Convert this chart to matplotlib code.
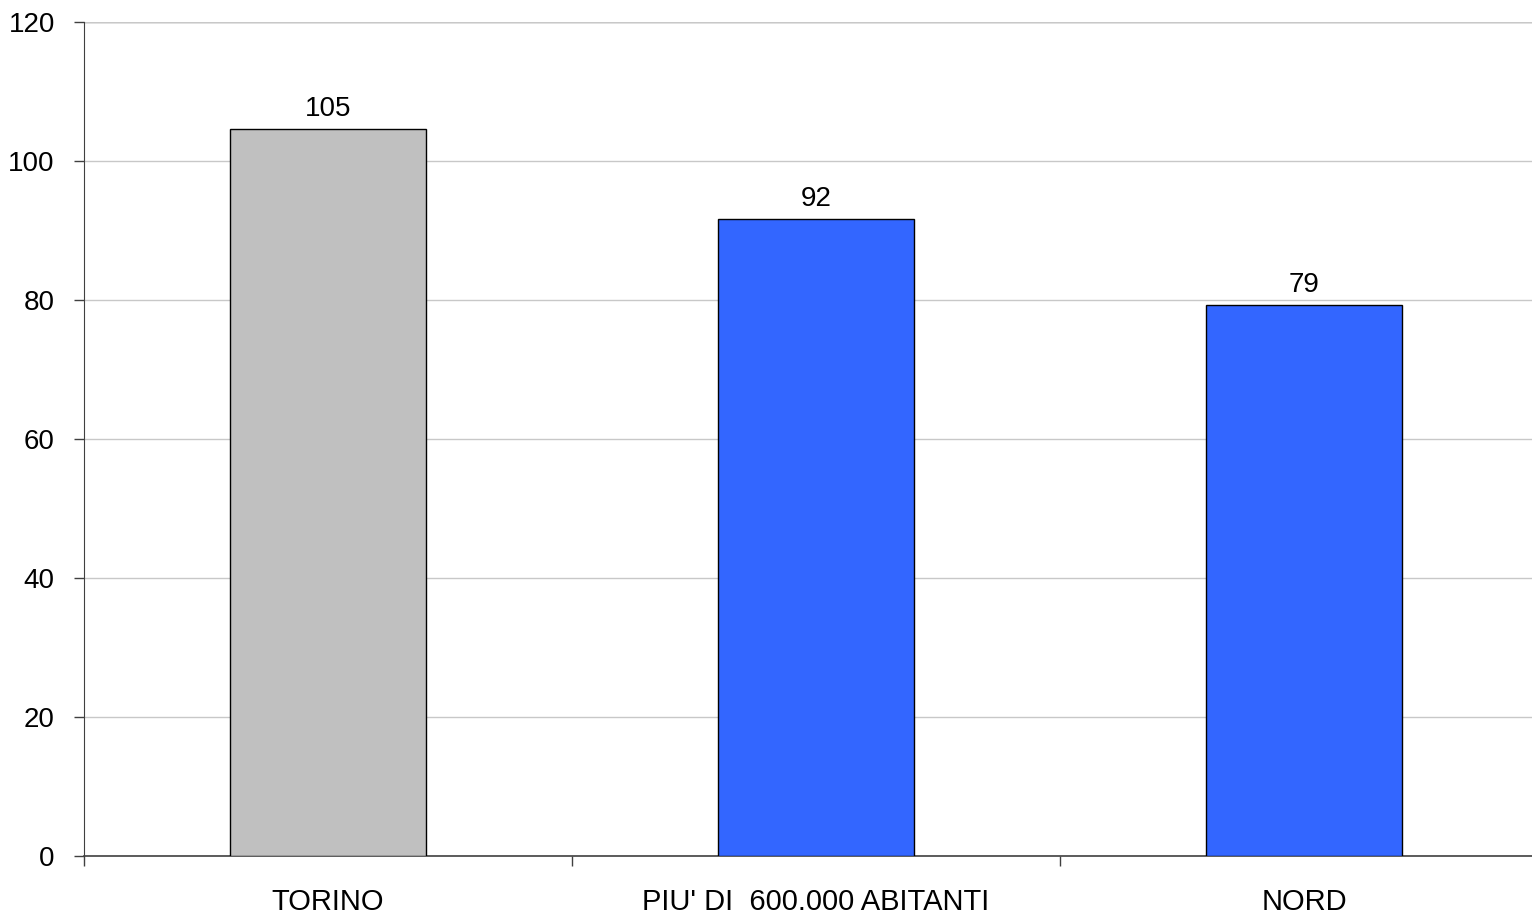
import matplotlib
matplotlib.use('Agg')
import matplotlib.pyplot as plt
import numpy as np

# dati
categorie = ['TORINO', "PIU' DI  600.000 ABITANTI", 'NORD']
valori = [104.6, 91.7, 79.3]
colori = ['#C0C0C0', '#3366FF', '#3366FF']

plt.rcParams['font.family'] = ['Liberation Sans', 'DejaVu Sans']

fig = plt.figure(figsize=(15.32, 9.15), dpi=100)
ax = fig.add_axes([84/1532, 59/915, 1464/1532, 834/915])

x = np.arange(len(categorie))
barre = ax.bar(x, valori, width=0.4, color=colori, edgecolor='black', linewidth=1, zorder=3)
ax.bar_label(barre, fmt='%.0f', padding=5, fontsize=20)

ax.set_xlim(-0.5, 2.5)
ax.set_ylim(0, 120)
ax.set_yticks(np.arange(0, 121, 20))
ax.yaxis.grid(True, color='#C8C8C8', linewidth=1, zorder=0)
ax.axhline(120, color='#808080', linewidth=1, zorder=1)

ax.set_xticks(x)
ax.set_xticklabels(categorie)
ax.set_xticks([-0.5, 0.5, 1.5, 2.5], minor=True)
ax.tick_params(axis='x', which='major', length=0, pad=23, labelsize=21)
ax.tick_params(axis='x', which='minor', length=7, width=1, color='#404040')
ax.tick_params(axis='y', length=7, width=1, color='#404040', labelsize=20, pad=14)

for s in ['top', 'right']:
    ax.spines[s].set_visible(False)
ax.spines['left'].set_color('#404040')
ax.spines['bottom'].set_color('#404040')
ax.spines['bottom'].set_linewidth(1.2)

fig.savefig('out.png', dpi=100)
